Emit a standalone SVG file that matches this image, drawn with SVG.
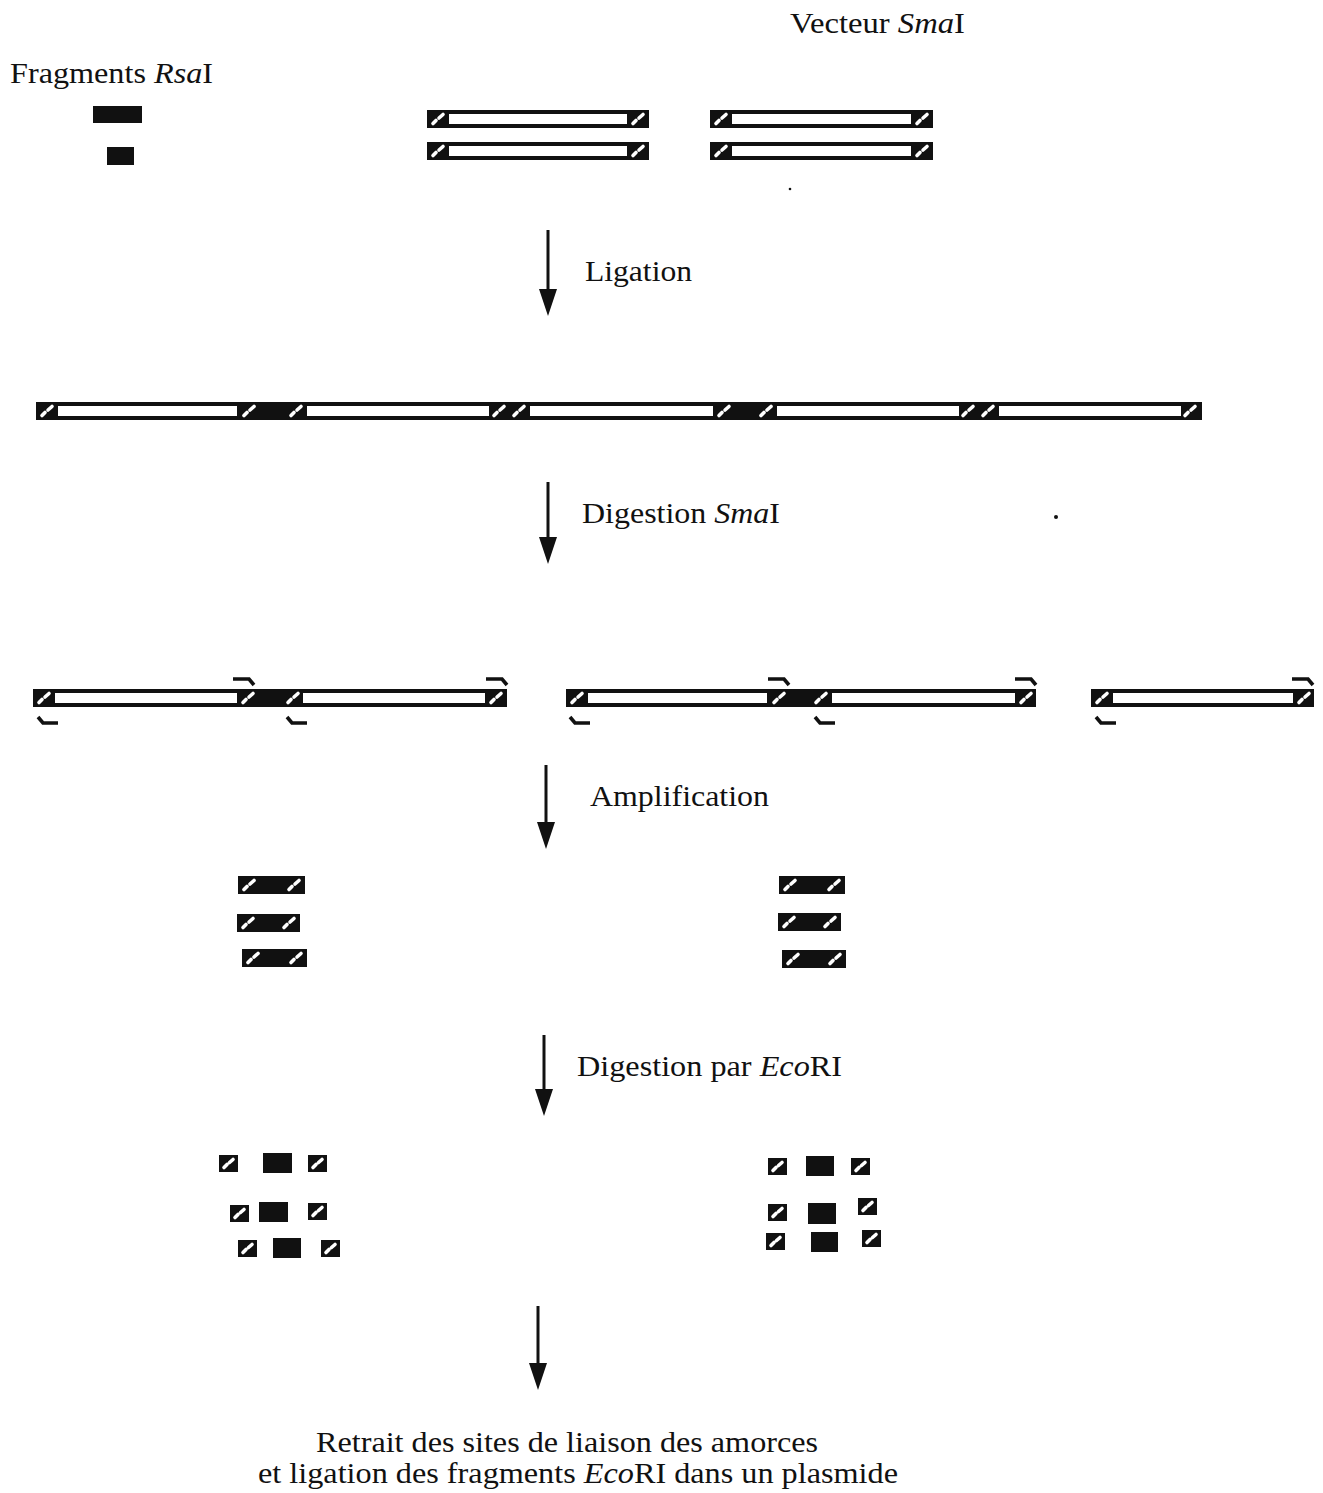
<svg xmlns="http://www.w3.org/2000/svg" xmlns:xlink="http://www.w3.org/1999/xlink" width="1323" height="1493" viewBox="0 0 1323 1493">
  <style>
    .lbl { font-family: "Liberation Serif", "Times New Roman", serif; font-size: 30px; fill: #111; }
    .it { font-style: italic; }
    .ink { fill: #111; }
    .gap { fill: #fff; }
    .shaft { stroke: #111; stroke-width: 3; fill: none; }
    .primer { stroke: #111; stroke-width: 3.6; fill: none; stroke-linejoin: miter; }
    .hx { stroke: #fff; stroke-width: 3.6; stroke-linecap: round; fill: none; }
  </style>
  <defs>
    <!-- primer binding site: black block with a white diagonal hatch -->
    <symbol id="site" viewBox="0 0 20 18" width="20" height="18" overflow="visible">
      <rect x="0" y="0" width="20" height="18" class="ink"/>
      <path d="M5,13.5 L8,10.5 M11,8 L15,4.5" class="hx"/>
    </symbol>
    <!-- hatch mark alone, laid over an already-black region -->
    <symbol id="hatch" viewBox="0 0 20 18" width="20" height="18" overflow="visible">
      <path d="M5,13.5 L8,10.5 M11,8 L15,4.5" class="hx"/>
    </symbol>
    <symbol id="site-s" viewBox="0 0 19 17" width="19" height="17" overflow="visible">
      <rect x="0" y="0" width="19" height="17" class="ink"/>
      <path d="M5,12.5 L8,9.5 M10.5,7.5 L14,4.5" class="hx"/>
    </symbol>
    <!-- forward / reverse primer half-arrows -->
    <path id="pf" d="M0,3 H16 L21,9" class="primer"/>
    <path id="pr" d="M22,9 H7 L2,3" class="primer"/>
  </defs>

  <!-- Starting material -->
  <g id="label-rsa">
    <text class="lbl" x="10" y="83" textLength="203" lengthAdjust="spacingAndGlyphs">Fragments <tspan class="it">Rsa</tspan>I</text>
  </g>
  <g id="rsa-fragments">
    <rect x="93" y="106" width="49" height="17" class="ink"/>
    <rect x="107" y="147" width="27" height="18" class="ink"/>
  </g>
  <g id="label-sma">
    <text class="lbl" x="790" y="33" textLength="175" lengthAdjust="spacingAndGlyphs">Vecteur <tspan class="it">Sma</tspan>I</text>
  </g>
  <g id="vector-arms">
    <rect x="427" y="110" width="222" height="18" class="ink"/>
    <rect x="449" y="114" width="178" height="10" class="gap"/>
    <use xlink:href="#site" x="428" y="110"/><use xlink:href="#site" x="628" y="110"/>
    <rect x="427" y="142" width="222" height="18" class="ink"/>
    <rect x="449" y="146" width="178" height="10" class="gap"/>
    <use xlink:href="#site" x="428" y="142"/><use xlink:href="#site" x="628" y="142"/>
    <rect x="710" y="110" width="223" height="18" class="ink"/>
    <rect x="732" y="114" width="179" height="10" class="gap"/>
    <use xlink:href="#site" x="711" y="110"/><use xlink:href="#site" x="912" y="110"/>
    <rect x="710" y="142" width="223" height="18" class="ink"/>
    <rect x="732" y="146" width="179" height="10" class="gap"/>
    <use xlink:href="#site" x="711" y="142"/><use xlink:href="#site" x="912" y="142"/>
  </g>

  <!-- Step arrows -->
  <g id="connectors">
    <line x1="548" y1="230" x2="548" y2="292" class="shaft"/>
    <polygon points="539,289 557,289 548,316" class="ink"/>
    <line x1="548" y1="482" x2="548" y2="540" class="shaft"/>
    <polygon points="539,537 557,537 548,564" class="ink"/>
    <line x1="546" y1="765" x2="546" y2="825" class="shaft"/>
    <polygon points="537,822 555,822 546,849" class="ink"/>
    <line x1="544" y1="1035" x2="544" y2="1092" class="shaft"/>
    <polygon points="535,1089 553,1089 544,1116" class="ink"/>
    <line x1="538" y1="1306" x2="538" y2="1366" class="shaft"/>
    <polygon points="529,1363 547,1363 538,1390" class="ink"/>
  </g>

  <g id="label-ligation">
    <text class="lbl" x="585" y="281" textLength="107" lengthAdjust="spacingAndGlyphs">Ligation</text>
  </g>

  <!-- Ligated concatemer -->
  <g id="concatemer">
    <rect x="36" y="402" width="1166" height="18" class="ink"/>
    <rect x="58" y="406" width="179" height="10" class="gap"/>
    <rect x="307" y="406" width="182" height="10" class="gap"/>
    <rect x="530" y="406" width="183" height="10" class="gap"/>
    <rect x="777" y="406" width="182" height="10" class="gap"/>
    <rect x="999" y="406" width="182" height="10" class="gap"/>
    <use xlink:href="#hatch" x="37" y="402"/>
    <use xlink:href="#hatch" x="239" y="402"/>
    <use xlink:href="#hatch" x="286" y="402"/>
    <use xlink:href="#hatch" x="489" y="402"/>
    <use xlink:href="#hatch" x="509" y="402"/>
    <use xlink:href="#hatch" x="714" y="402"/>
    <use xlink:href="#hatch" x="756" y="402"/>
    <use xlink:href="#hatch" x="958" y="402"/>
    <use xlink:href="#hatch" x="978" y="402"/>
    <use xlink:href="#hatch" x="1180" y="402"/>
  </g>

  <g id="label-digestion-sma">
    <text class="lbl" x="582" y="523" textLength="198" lengthAdjust="spacingAndGlyphs">Digestion <tspan class="it">Sma</tspan>I</text>
  </g>
  <circle cx="1056" cy="517" r="2" class="ink"/>
  <circle cx="790" cy="189" r="1.3" class="ink"/>

  <!-- SmaI digestion products with primers -->
  <g id="smai-product-1">
    <rect x="33" y="689" width="474" height="18" class="ink"/>
    <rect x="55" y="693" width="182" height="10" class="gap"/>
    <rect x="303" y="693" width="182" height="10" class="gap"/>
    <use xlink:href="#hatch" x="34" y="689"/>
    <use xlink:href="#hatch" x="238" y="689"/>
    <use xlink:href="#hatch" x="283" y="689"/>
    <use xlink:href="#hatch" x="486" y="689"/>
    <use xlink:href="#pf" x="233" y="676"/>
    <use xlink:href="#pf" x="486" y="676"/>
    <use xlink:href="#pr" x="36" y="714"/>
    <use xlink:href="#pr" x="285" y="714"/>
  </g>
  <g id="smai-product-2">
    <rect x="566" y="689" width="470" height="18" class="ink"/>
    <rect x="588" y="693" width="179" height="10" class="gap"/>
    <rect x="832" y="693" width="183" height="10" class="gap"/>
    <use xlink:href="#hatch" x="567" y="689"/>
    <use xlink:href="#hatch" x="769" y="689"/>
    <use xlink:href="#hatch" x="811" y="689"/>
    <use xlink:href="#hatch" x="1016" y="689"/>
    <use xlink:href="#pf" x="768" y="676"/>
    <use xlink:href="#pf" x="1015" y="676"/>
    <use xlink:href="#pr" x="568" y="714"/>
    <use xlink:href="#pr" x="813" y="714"/>
  </g>
  <g id="smai-product-3">
    <rect x="1091" y="689" width="223" height="18" class="ink"/>
    <rect x="1113" y="693" width="180" height="10" class="gap"/>
    <use xlink:href="#hatch" x="1092" y="689"/>
    <use xlink:href="#hatch" x="1294" y="689"/>
    <use xlink:href="#pf" x="1292" y="676"/>
    <use xlink:href="#pr" x="1094" y="714"/>
  </g>

  <g id="label-amplification">
    <text class="lbl" x="590" y="806" textLength="179" lengthAdjust="spacingAndGlyphs">Amplification</text>
  </g>

  <!-- PCR products -->
  <g id="pcr-left">
    <rect x="238" y="876" width="67" height="18" class="ink"/>
    <use xlink:href="#hatch" x="239" y="876"/><use xlink:href="#hatch" x="284" y="876"/>
    <rect x="237" y="914" width="63" height="18" class="ink"/>
    <use xlink:href="#hatch" x="238" y="914"/><use xlink:href="#hatch" x="279" y="914"/>
    <rect x="242" y="949" width="65" height="18" class="ink"/>
    <use xlink:href="#hatch" x="243" y="949"/><use xlink:href="#hatch" x="286" y="949"/>
  </g>
  <g id="pcr-right">
    <rect x="779" y="876" width="66" height="18" class="ink"/>
    <use xlink:href="#hatch" x="780" y="876"/><use xlink:href="#hatch" x="824" y="876"/>
    <rect x="778" y="913" width="63" height="18" class="ink"/>
    <use xlink:href="#hatch" x="779" y="913"/><use xlink:href="#hatch" x="820" y="913"/>
    <rect x="782" y="950" width="64" height="18" class="ink"/>
    <use xlink:href="#hatch" x="783" y="950"/><use xlink:href="#hatch" x="825" y="950"/>
  </g>

  <g id="label-digestion-eco">
    <text class="lbl" x="577" y="1076" textLength="265" lengthAdjust="spacingAndGlyphs">Digestion par <tspan class="it">Eco</tspan>RI</text>
  </g>

  <!-- EcoRI fragments: released sites and inserts -->
  <g id="ecori-left">
    <use xlink:href="#site-s" x="219" y="1155"/>
    <rect x="263" y="1153" width="29" height="20" class="ink"/>
    <use xlink:href="#site-s" x="308" y="1155"/>
    <use xlink:href="#site-s" x="230" y="1205"/>
    <rect x="259" y="1202" width="29" height="20" class="ink"/>
    <use xlink:href="#site-s" x="308" y="1203"/>
    <use xlink:href="#site-s" x="238" y="1240"/>
    <rect x="273" y="1238" width="28" height="20" class="ink"/>
    <use xlink:href="#site-s" x="321" y="1240"/>
  </g>
  <g id="ecori-right">
    <use xlink:href="#site-s" x="768" y="1158"/>
    <rect x="806" y="1156" width="28" height="20" class="ink"/>
    <use xlink:href="#site-s" x="851" y="1158"/>
    <use xlink:href="#site-s" x="768" y="1204"/>
    <rect x="808" y="1203" width="28" height="21" class="ink"/>
    <use xlink:href="#site-s" x="858" y="1198"/>
    <use xlink:href="#site-s" x="766" y="1233"/>
    <rect x="811" y="1232" width="27" height="20" class="ink"/>
    <use xlink:href="#site-s" x="862" y="1230"/>
  </g>

  <g id="label-final">
    <text class="lbl" x="316" y="1452" textLength="502" lengthAdjust="spacingAndGlyphs">Retrait des sites de liaison des amorces</text>
    <text class="lbl" x="258" y="1483" textLength="640" lengthAdjust="spacingAndGlyphs">et ligation des fragments <tspan class="it">Eco</tspan>RI dans un plasmide</text>
  </g>
</svg>
